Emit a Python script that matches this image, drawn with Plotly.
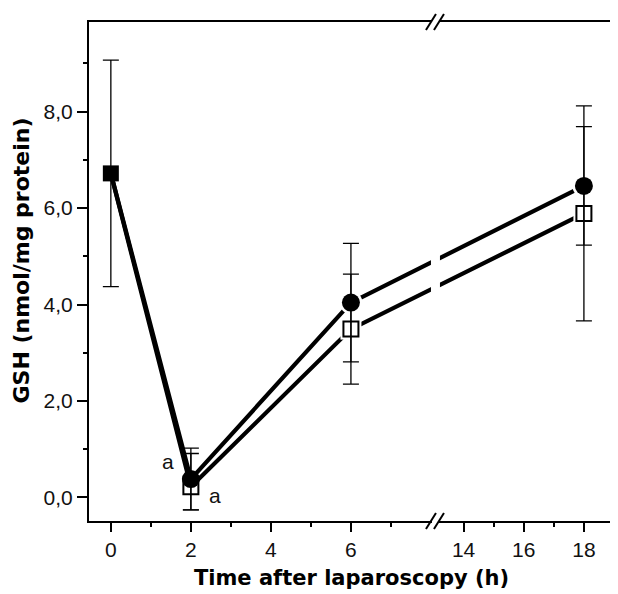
import plotly.graph_objects as go

# ---------------- data ----------------
TIMES = [2, 6, 18]                      # h after laparoscopy
BASELINE_TIME = [0]
BASELINE_MEAN = [6.72]
BASELINE_SD = [2.35]

CIRCLE_MEAN = [0.38, 4.04, 6.46]        # filled circles
CIRCLE_SD = [0.64, 1.23, 1.23]
SQUARE_MEAN = [0.22, 3.49, 5.89]        # open squares
SQUARE_SD_UP = [0.69, 1.14, 2.23]
SQUARE_SD_DOWN = [0.48, 1.14, 2.23]

X_MAJOR = [0, 2, 4, 6, 14, 16, 18]
X_MAJOR_LABELS = ["0", "2", "4", "6", "14", "16", "18"]
X_MINOR = [1, 3, 5, 7, 15, 17]
Y_MAJOR = [0, 2, 4, 6, 8]
Y_MAJOR_LABELS = ["0,0", "2,0", "4,0", "6,0", "8,0"]
Y_MINOR = [1, 3, 5, 7, 9]

SIG_LABEL = "a"

# broken time axis: 0..8.1 and 13.05..19 (second part compressed)
BREAK_LO = 8.1
BREAK_HI = 13.05
SEG2_SCALE = 0.752


def disp(t):
    return t if t <= BREAK_LO else BREAK_LO + (t - BREAK_HI) * SEG2_SCALE


X_RANGE = [-0.546, disp(19.0)]
Y_RANGE = [-0.49, 9.86]

BLACK = "#000000"
TICK_FONT = dict(family="Liberation Sans, Arial, sans-serif", size=21, color="#111111")
TITLE_FONT = dict(family="DejaVu Sans, sans-serif", size=21, color=BLACK)

fig = go.Figure()

# connecting lines (baseline shared by both groups)
for means in (SQUARE_MEAN, CIRCLE_MEAN):
    xs = [disp(t) for t in BASELINE_TIME + TIMES]
    ys = BASELINE_MEAN + means
    fig.add_trace(go.Scatter(x=xs, y=ys, mode="lines",
                             line=dict(color=BLACK, width=4.2),
                             showlegend=False, hoverinfo="skip"))

# white halos so lines stop short of the symbols
fig.add_trace(go.Scatter(x=[disp(t) for t in TIMES[1:]], y=CIRCLE_MEAN[1:], mode="markers",
                         marker=dict(symbol="circle", size=23, color="white"),
                         showlegend=False, hoverinfo="skip"))
fig.add_trace(go.Scatter(x=[disp(t) for t in TIMES[1:]], y=SQUARE_MEAN[1:], mode="markers",
                         marker=dict(symbol="square", size=21, color="white"),
                         showlegend=False, hoverinfo="skip"))

# symbols
fig.add_trace(go.Scatter(x=[disp(t) for t in TIMES], y=SQUARE_MEAN, mode="markers",
                         marker=dict(symbol="square", size=15, color="white",
                                     line=dict(color=BLACK, width=2)),
                         showlegend=False))
fig.add_trace(go.Scatter(x=[disp(t) for t in TIMES], y=CIRCLE_MEAN, mode="markers",
                         marker=dict(symbol="circle", size=18, color=BLACK,
                                     line=dict(width=0)),
                         showlegend=False))
fig.add_trace(go.Scatter(x=[disp(t) for t in BASELINE_TIME], y=BASELINE_MEAN, mode="markers",
                         marker=dict(symbol="square", size=16, color=BLACK,
                                     line=dict(width=0)),
                         showlegend=False))

# error bars drawn on top (visible through the open squares)
for tt, means, up, down in ((TIMES, SQUARE_MEAN, SQUARE_SD_UP, SQUARE_SD_DOWN),
                            (TIMES, CIRCLE_MEAN, CIRCLE_SD, CIRCLE_SD),
                            (BASELINE_TIME, BASELINE_MEAN, BASELINE_SD, BASELINE_SD)):
    fig.add_trace(go.Scatter(x=[disp(t) for t in tt], y=means, mode="markers",
                             marker=dict(size=1, opacity=0),
                             error_y=dict(type="data", array=up, arrayminus=down,
                                          symmetric=False, visible=True,
                                          color=BLACK, thickness=1.3, width=8),
                             showlegend=False, hoverinfo="skip"))

# significance labels at 2 h
fig.add_annotation(x=disp(TIMES[0]), y=CIRCLE_MEAN[0], text=SIG_LABEL, showarrow=False,
                   xshift=-23, yshift=18, font=TICK_FONT)
fig.add_annotation(x=disp(TIMES[0]), y=SQUARE_MEAN[0], text=SIG_LABEL, showarrow=False,
                   xshift=24, yshift=-9, font=TICK_FONT)

# y-axis title
fig.add_annotation(xref="paper", yref="paper", x=0, y=0.522, xshift=-67,
                   text="<b>GSH (nmol/mg protein)</b>", textangle=-90, showarrow=False,
                   xanchor="center", yanchor="middle",
                   font=dict(family="DejaVu Sans, sans-serif", size=22, color=BLACK))

# axis break: gap in the data lines and // marks on top and bottom frame
fig.add_shape(type="rect", xref="x", yref="paper", xsizemode="pixel", xanchor=BREAK_LO,
              x0=-4, x1=5, y0=0.02, y1=0.98, fillcolor="white", line=dict(width=0),
              layer="above")
for ypos in (0, 1):
    fig.add_shape(type="rect", xref="x", yref="paper", xsizemode="pixel", ysizemode="pixel",
                  xanchor=BREAK_LO, yanchor=ypos, x0=-3, x1=4, y0=-4, y1=4,
                  fillcolor="white", line=dict(width=0), layer="above")
    for off in (-4, 4):
        fig.add_shape(type="line", xref="x", yref="paper", xsizemode="pixel",
                      ysizemode="pixel", xanchor=BREAK_LO, yanchor=ypos,
                      x0=off - 5, x1=off + 5, y0=-8, y1=8,
                      line=dict(color=BLACK, width=2), layer="above")

# page body has an 8px default margin, so the figure is 8px smaller
fig.update_layout(
    width=610, height=586,
    margin=dict(l=81, r=2, t=14, b=73),
    paper_bgcolor="white", plot_bgcolor="white",
    showlegend=False,
    xaxis=dict(range=X_RANGE, tickmode="array",
               tickvals=[disp(t) for t in X_MAJOR], ticktext=X_MAJOR_LABELS,
               ticks="outside", ticklen=9, tickwidth=2, tickcolor=BLACK,
               minor=dict(tickmode="array", tickvals=[disp(t) for t in X_MINOR],
                          ticks="outside", ticklen=4, tickwidth=2, tickcolor=BLACK,
                          showgrid=False),
               showline=True, linecolor=BLACK, linewidth=2, mirror=True,
               showgrid=False, zeroline=False, tickfont=TICK_FONT,
               title=dict(text="<b>Time after laparoscopy (h)</b>", font=TITLE_FONT,
                          standoff=10)),
    yaxis=dict(range=Y_RANGE, tickmode="array", tickvals=Y_MAJOR, ticktext=Y_MAJOR_LABELS,
               ticks="outside", ticklen=10, tickwidth=2, tickcolor=BLACK,
               minor=dict(tickmode="array", tickvals=Y_MINOR, ticks="outside",
                          ticklen=4, tickwidth=2, tickcolor=BLACK, showgrid=False),
               showline=True, linecolor=BLACK, linewidth=2, mirror=True,
               showgrid=False, zeroline=False, tickfont=TICK_FONT),
)

fig.write_html("out.html")
